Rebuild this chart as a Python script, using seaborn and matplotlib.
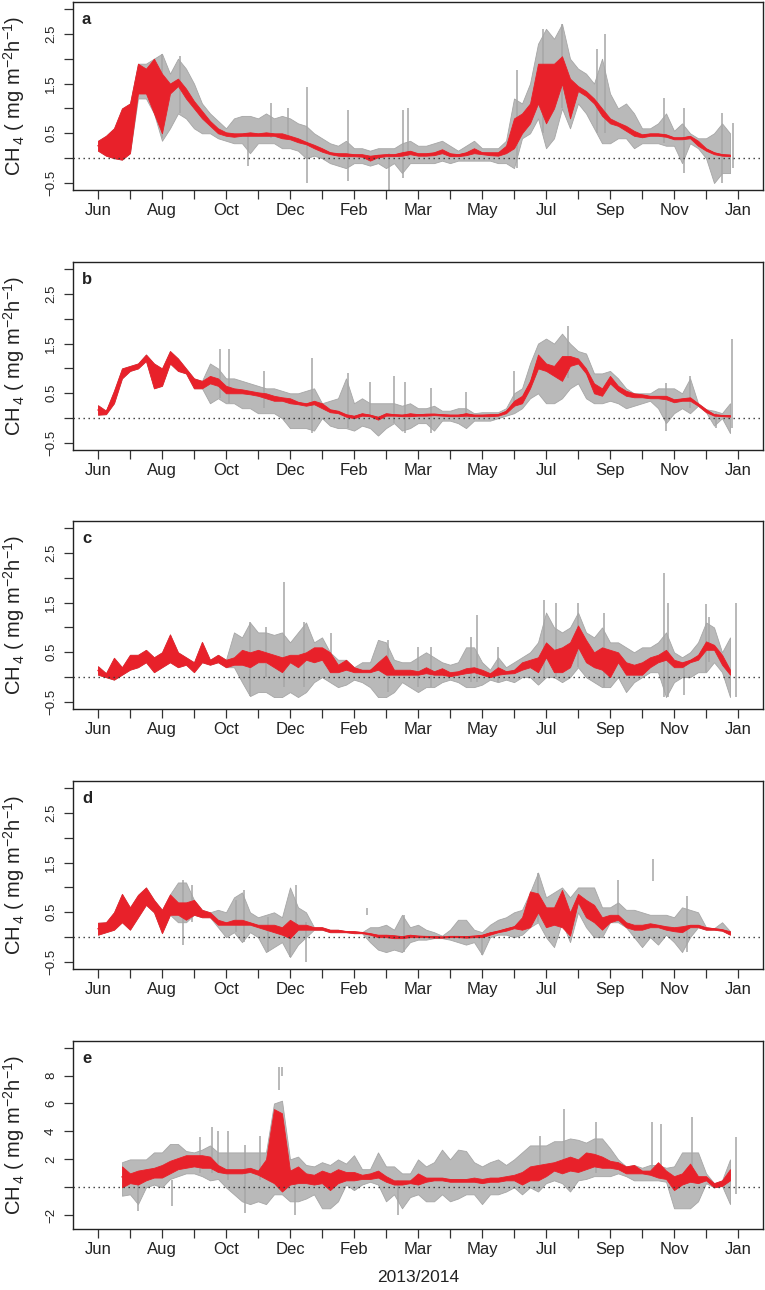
import numpy as np
import matplotlib
matplotlib.use("Agg")
import matplotlib.pyplot as plt
import seaborn as sns
import pandas as pd

# ---------------- data (months since Jun 2013, step 0.25 month) ----------------
months = np.arange(0, 20, 0.25)
nan = np.nan

month_ticks = list(range(0, 21))
month_labels = ["Jun", "", "Aug", "", "Oct", "", "Dec", "", "Feb", "", "Mar", "",
                "May", "", "Jul", "", "Sep", "", "Nov", "", "Jan"]

# ---- panel a ----
a_red_lo = [0.15, 0.05, 0.0, -0.03, 0.1, 1.3, 1.3, 0.9, 0.5, 1.3, 1.45, 1.2,
            1.0, 0.8, 0.65, 0.5, 0.45, 0.43, 0.45, 0.45, 0.45, 0.45, 0.45, 0.4,
            0.38, 0.32, 0.28, 0.2, 0.13, 0.08, 0.05, 0.04, 0.04, 0.03, -0.05, 0.02,
            0.04, 0.04, 0.05, 0.08, 0.05, 0.05, 0.06, 0.1, 0.04, 0.04, 0.06, 0.1,
            0.08, 0.06, 0.05, 0.1, 0.2, 0.5, 0.7, 1.1, 0.7, 1.0, 1.5, 0.8,
            1.35, 1.25, 1.1, 0.85, 0.7, 0.65, 0.55, 0.45, 0.42, 0.45, 0.45, 0.43,
            0.38, 0.38, 0.4, 0.25, 0.15, 0.08, 0.05, 0.04]
a_red_hi = [0.35, 0.45, 0.6, 1.0, 1.1, 1.9, 1.8, 2.0, 1.7, 1.5, 1.6, 1.4,
            1.15, 0.95, 0.75, 0.6, 0.52, 0.5, 0.5, 0.52, 0.5, 0.52, 0.5, 0.5,
            0.45, 0.4, 0.33, 0.27, 0.2, 0.12, 0.1, 0.1, 0.08, 0.08, 0.05, 0.07,
            0.08, 0.08, 0.12, 0.15, 0.1, 0.1, 0.12, 0.18, 0.1, 0.08, 0.12, 0.2,
            0.12, 0.12, 0.12, 0.25, 0.8, 0.9, 1.1, 1.9, 1.9, 1.9, 2.05, 1.6,
            1.45, 1.35, 1.2, 1.0, 0.8, 0.72, 0.65, 0.55, 0.48, 0.5, 0.5, 0.48,
            0.42, 0.42, 0.45, 0.35, 0.2, 0.12, 0.08, 0.07]
a_grey_lo = [0.15, 0.05, 0.0, -0.03, 0.1, 1.2, 1.2, 0.9, 0.35, 0.6, 0.9, 0.8,
             0.6, 0.5, 0.5, 0.4, 0.35, 0.3, 0.3, 0.1, 0.3, 0.3, 0.3, 0.2,
             0.2, 0.15, 0.0, 0.05, 0.0, -0.1, -0.15, -0.2, -0.1, -0.1, -0.15, -0.1,
             -0.2, -0.1, -0.3, -0.1, -0.1, -0.1, -0.1, -0.05, -0.1, -0.05, -0.05, -0.05,
             -0.05, -0.05, -0.1, -0.1, -0.2, 0.4, 0.5, 0.8, 0.2, 0.4, 1.0, 0.6,
             1.1, 0.9, 0.6, 0.3, 0.3, 0.4, 0.4, 0.2, 0.3, 0.3, 0.3, 0.25,
             0.25, -0.1, 0.3, 0.2, 0.0, -0.5, -0.3, -0.3]
a_grey_hi = [0.35, 0.45, 0.6, 1.0, 1.1, 1.9, 1.9, 2.0, 2.1, 1.7, 2.0, 1.8,
             1.5, 1.1, 0.9, 0.75, 0.6, 0.8, 0.85, 0.85, 0.8, 0.9, 0.8, 0.85,
             0.8, 0.7, 0.65, 0.5, 0.4, 0.3, 0.25, 0.35, 0.2, 0.2, 0.15, 0.2,
             0.2, 0.2, 0.3, 0.35, 0.25, 0.25, 0.3, 0.35, 0.25, 0.15, 0.25, 0.35,
             0.2, 0.2, 0.2, 0.35, 1.2, 1.1, 1.5, 2.3, 2.6, 2.4, 2.7, 2.0,
             1.8, 1.7, 1.5, 2.0, 1.3, 1.0, 1.1, 0.9, 0.6, 0.6, 0.7, 0.9,
             0.55, 0.7, 0.5, 0.4, 0.4, 0.5, 0.7, 0.5]
a_spike_x = [2.0, 2.55, 4.7, 5.4, 5.95, 6.52, 7.8, 9.1, 9.54, 9.7, 13.08, 13.9,
             14.5, 15.6, 15.85, 17.7, 18.3, 19.5, 19.85]
a_spike_lo = [0.4, 0.9, -0.16, 0.4, 0.4, -0.5, -0.46, -0.63, -0.4, 0.0, -0.2, 0.5,
              1.0, 0.5, 0.5, 0.3, -0.3, -0.5, -0.2]
a_spike_hi = [2.1, 2.05, 0.5, 1.1, 1.0, 1.44, 0.97, 0.1, 0.97, 1.0, 1.77, 2.6,
              2.7, 2.2, 2.5, 1.2, 1.0, 0.9, 0.7]

# ---- panel b ----
b_red_lo = [0.07, 0.08, 0.3, 0.8, 0.95, 1.0, 1.15, 0.6, 0.65, 1.1, 0.95, 0.9,
            0.6, 0.6, 0.7, 0.65, 0.5, 0.5, 0.5, 0.48, 0.45, 0.4, 0.35, 0.35,
            0.3, 0.28, 0.25, 0.28, 0.2, 0.12, 0.1, 0.03, 0.0, 0.05, 0.04, -0.03,
            0.05, 0.05, 0.04, 0.04, 0.05, 0.05, 0.06, 0.05, 0.04, 0.04, 0.05, 0.04,
            0.04, 0.04, 0.05, 0.1, 0.25, 0.3, 0.6, 1.0, 0.95, 0.85, 0.75, 1.05,
            1.1, 0.9, 0.5, 0.45, 0.7, 0.55, 0.45, 0.42, 0.42, 0.4, 0.4, 0.38,
            0.32, 0.35, 0.35, 0.25, 0.12, 0.05, 0.04, 0.03]
b_red_hi = [0.26, 0.15, 0.55, 1.0, 1.05, 1.1, 1.28, 1.1, 1.0, 1.35, 1.2, 1.0,
            0.8, 0.75, 0.85, 0.8, 0.65, 0.6, 0.58, 0.55, 0.52, 0.5, 0.45, 0.42,
            0.4, 0.33, 0.3, 0.35, 0.3, 0.18, 0.15, 0.08, 0.05, 0.1, 0.07, 0.03,
            0.1, 0.08, 0.07, 0.1, 0.08, 0.09, 0.09, 0.08, 0.07, 0.07, 0.1, 0.07,
            0.07, 0.08, 0.08, 0.15, 0.35, 0.45, 0.75, 1.28, 1.1, 1.05, 1.25, 1.25,
            1.2, 1.0, 0.7, 0.6, 0.85, 0.65, 0.55, 0.5, 0.48, 0.45, 0.45, 0.45,
            0.38, 0.4, 0.42, 0.3, 0.18, 0.08, 0.06, 0.06]
b_grey_lo = [0.07, 0.08, 0.3, 0.8, 0.95, 1.0, 1.15, 0.6, 0.65, 1.1, 0.95, 0.9,
             0.6, 0.6, 0.3, 0.4, 0.3, 0.3, 0.2, 0.2, 0.1, 0.1, 0.1, 0.0,
             -0.2, -0.2, -0.2, -0.25, 0.0, -0.15, -0.2, -0.2, -0.25, -0.15, -0.2, -0.35,
             -0.2, -0.1, -0.25, -0.2, -0.1, -0.1, -0.25, -0.05, -0.05, -0.1, -0.2, -0.05,
             -0.05, -0.05, 0.0, 0.05, 0.1, 0.2, 0.4, 0.5, 0.3, 0.3, 0.4, 0.6,
             0.7, 0.4, 0.3, 0.3, 0.35, 0.3, 0.2, 0.25, 0.3, 0.35, 0.2, -0.1,
             0.1, 0.2, 0.1, 0.25, 0.12, -0.15, 0.0, -0.3]
b_grey_hi = [0.26, 0.15, 0.55, 1.0, 1.05, 1.1, 1.28, 1.1, 1.0, 1.35, 1.2, 1.0,
             0.8, 0.75, 1.1, 1.0, 0.8, 0.8, 0.75, 0.7, 0.65, 0.6, 0.6, 0.55,
             0.5, 0.5, 0.55, 0.6, 0.3, 0.35, 0.4, 0.8, 0.3, 0.4, 0.3, 0.3,
             0.3, 0.3, 0.25, 0.3, 0.2, 0.2, 0.25, 0.15, 0.15, 0.2, 0.2, 0.1,
             0.12, 0.12, 0.12, 0.2, 0.5, 0.6, 1.1, 1.5, 1.6, 1.5, 1.7, 1.5,
             1.35, 1.3, 0.9, 0.9, 0.95, 0.8, 0.6, 0.5, 0.5, 0.5, 0.6, 0.6,
             0.6, 0.5, 0.8, 0.3, 0.18, 0.15, 0.1, 0.3]
b_spike_x = [3.8, 4.1, 5.2, 6.7, 7.8, 8.5, 9.26, 9.6, 10.4, 11.5, 13.0, 14.7,
             17.75, 18.5, 19.3, 19.8]
b_spike_lo = [0.4, 0.3, 0.2, -0.3, -0.2, 0.0, -0.1, -0.3, -0.3, 0.0, 0.2, 0.8,
              -0.25, 0.2, -0.2, -0.2]
b_spike_hi = [1.4, 1.4, 0.95, 1.2, 0.9, 0.73, 0.85, 0.72, 0.6, 0.52, 0.95, 1.85,
              0.7, 0.85, 0.1, 1.6]

# ---- panel c ----
c_red_lo = [0.05, 0.0, -0.05, 0.05, 0.15, 0.2, 0.3, 0.1, 0.2, 0.3, 0.2, 0.25,
            0.1, 0.3, 0.25, 0.3, 0.2, 0.25, 0.25, 0.2, 0.3, 0.3, 0.2, 0.1,
            0.3, 0.2, 0.35, 0.3, 0.35, 0.1, 0.1, 0.15, 0.1, 0.1, 0.1, 0.15,
            0.05, 0.05, 0.05, 0.05, 0.05, 0.08, 0.05, 0.05, 0.02, 0.05, 0.08, 0.1,
            0.05, 0.0, 0.05, 0.07, 0.08, 0.15, 0.2, 0.1, 0.4, 0.1, 0.1, 0.2,
            0.6, 0.3, 0.2, 0.15, 0.0, 0.3, 0.05, 0.05, 0.05, 0.2, 0.3, 0.35,
            0.2, 0.2, 0.3, 0.35, 0.55, 0.55, 0.25, 0.05]
c_red_hi = [0.22, 0.08, 0.39, 0.2, 0.45, 0.45, 0.55, 0.4, 0.5, 0.86, 0.5, 0.4,
            0.3, 0.71, 0.35, 0.45, 0.35, 0.4, 0.55, 0.5, 0.55, 0.5, 0.45, 0.4,
            0.45, 0.45, 0.5, 0.6, 0.6, 0.5, 0.25, 0.35, 0.2, 0.15, 0.15, 0.3,
            0.44, 0.15, 0.15, 0.15, 0.12, 0.2, 0.12, 0.18, 0.1, 0.12, 0.18, 0.2,
            0.15, 0.08, 0.2, 0.12, 0.15, 0.3, 0.35, 0.4, 0.7, 0.55, 0.6, 0.7,
            1.04, 0.75, 0.5, 0.6, 0.55, 0.5, 0.3, 0.25, 0.3, 0.4, 0.45, 0.55,
            0.35, 0.3, 0.35, 0.45, 0.72, 0.65, 0.45, 0.15]
c_grey_lo = [0.05, 0.0, -0.05, 0.05, 0.15, 0.2, 0.3, 0.1, 0.2, 0.3, 0.2, 0.25,
             0.1, 0.3, 0.25, 0.3, 0.2, 0.2, -0.1, -0.38, -0.3, -0.3, -0.4, -0.4,
             -0.3, -0.4, -0.3, -0.1, 0.0, -0.1, -0.2, -0.15, -0.05, -0.1, -0.2, -0.4,
             -0.4, -0.3, -0.1, -0.2, -0.3, -0.2, -0.2, -0.1, -0.05, -0.1, -0.2, -0.2,
             -0.15, -0.05, -0.1, -0.05, -0.1, 0.0, 0.0, -0.15, 0.0, 0.0, -0.1, 0.0,
             0.2, 0.0, -0.1, -0.2, -0.2, 0.0, -0.3, -0.1, 0.0, 0.1, 0.1, -0.4,
             -0.1, 0.0, 0.0, 0.1, 0.1, 0.3, 0.1, -0.4]
c_grey_hi = [0.22, 0.08, 0.39, 0.2, 0.45, 0.45, 0.55, 0.4, 0.5, 0.86, 0.5, 0.4,
             0.3, 0.71, 0.35, 0.45, 0.35, 0.9, 0.8, 1.1, 0.9, 0.9, 0.85, 0.9,
             0.7, 0.9, 1.1, 0.7, 0.8, 0.5, 0.35, 0.35, 0.2, 0.3, 0.3, 0.75,
             0.7, 0.35, 0.3, 0.3, 0.4, 0.5, 0.4, 0.3, 0.25, 0.3, 0.6, 0.6,
             0.3, 0.15, 0.4, 0.2, 0.3, 0.4, 0.5, 0.7, 1.3, 1.0, 0.9, 1.0,
             1.3, 0.9, 0.8, 1.0, 0.7, 0.7, 0.6, 0.5, 0.6, 0.6, 0.7, 0.9,
             0.5, 0.4, 0.5, 0.7, 1.1, 1.0, 0.5, 0.8]
c_spike_x = [4.75, 5.25, 5.8, 6.45, 7.27, 9.05, 10.0, 10.4, 11.65, 11.83, 12.5, 13.95,
             14.3, 15.0, 15.8, 17.7, 17.8, 18.3, 19.0, 19.1, 19.93]
c_spike_lo = [-0.38, 0.0, -0.2, -0.2, 0.3, -0.3, -0.2, -0.2, -0.1, -0.1, -0.1, 0.0,
              0.0, 0.2, -0.2, -0.4, -0.4, -0.35, 0.1, 0.3, -0.4]
c_spike_hi = [1.1, 1.0, 1.91, 1.1, 0.88, 0.75, 0.6, 0.6, 0.8, 1.25, 0.6, 1.55,
              1.5, 1.5, 1.3, 2.09, 1.5, 0.3, 1.48, 1.2, 1.5]

# ---- panel d ----
d_red_lo = [0.05, 0.1, 0.15, 0.3, 0.15, 0.4, 0.65, 0.5, 0.08, 0.45, 0.45, 0.35,
            0.45, 0.4, 0.4, 0.25, 0.25, 0.25, 0.25, 0.25, 0.2, 0.15, 0.1, 0.05,
            -0.02, 0.15, 0.15, 0.15, 0.15, 0.1, 0.1, 0.1, 0.08, 0.08, 0.05, 0.0,
            0.0, -0.02, -0.02, 0.0, 0.0, 0.0, -0.01, -0.01, 0.0, 0.0, -0.01, 0.0,
            0.0, 0.05, 0.1, 0.13, 0.18, 0.15, 0.2, 0.5, 0.2, 0.25, 0.2, 0.03,
            0.7, 0.4, 0.3, 0.15, 0.3, 0.35, 0.2, 0.15, 0.15, 0.2, 0.2, 0.15,
            0.12, 0.1, 0.2, 0.2, 0.15, 0.15, 0.13, 0.05]
d_red_hi = [0.29, 0.3, 0.5, 0.87, 0.6, 0.85, 1.0, 0.75, 0.55, 0.86, 0.7, 0.7,
            0.75, 0.55, 0.5, 0.35, 0.3, 0.35, 0.35, 0.3, 0.25, 0.25, 0.25, 0.2,
            0.35, 0.25, 0.25, 0.2, 0.2, 0.15, 0.15, 0.12, 0.12, 0.1, 0.08, 0.05,
            0.05, 0.04, 0.02, 0.05, 0.03, 0.02, 0.02, 0.01, 0.02, 0.02, 0.02, 0.03,
            0.05, 0.1, 0.13, 0.18, 0.22, 0.4, 0.92, 0.88, 0.6, 0.6, 0.95, 0.5,
            0.87, 0.75, 0.65, 0.4, 0.45, 0.45, 0.3, 0.25, 0.25, 0.28, 0.25, 0.22,
            0.2, 0.22, 0.25, 0.25, 0.2, 0.18, 0.16, 0.12]
d_grey_lo = [0.05, 0.1, 0.15, 0.3, 0.15, 0.4, 0.65, 0.5, 0.08, 0.45, 0.3, 0.3,
             0.45, 0.4, 0.4, 0.2, 0.0, 0.1, -0.1, 0.1, 0.0, -0.3, -0.2, -0.1,
             -0.4, -0.15, 0.0, 0.15, 0.15, 0.1, 0.1, 0.1, 0.08, 0.08, -0.1, -0.25,
             -0.3, -0.25, -0.3, -0.1, -0.05, -0.05, -0.02, -0.02, -0.05, -0.1, -0.15, -0.1,
             -0.35, 0.0, 0.05, 0.05, 0.0, 0.05, 0.2, 0.3, 0.0, -0.2, 0.3, -0.1,
             0.5, 0.2, 0.0, 0.0, 0.3, 0.3, 0.2, 0.0, -0.2, 0.0, -0.15, 0.05,
             -0.1, -0.3, 0.0, 0.2, 0.15, 0.15, 0.13, 0.05]
d_grey_hi = [0.29, 0.3, 0.5, 0.87, 0.6, 0.85, 1.0, 0.75, 0.55, 0.86, 1.1, 1.1,
             0.75, 0.55, 0.5, 0.55, 0.5, 0.8, 0.9, 0.5, 0.4, 0.45, 0.5, 0.4,
             1.0, 0.6, 0.5, 0.2, 0.2, 0.15, 0.15, 0.12, 0.12, 0.1, 0.2, 0.2,
             0.25, 0.15, 0.45, 0.2, 0.25, 0.15, 0.1, 0.03, 0.15, 0.35, 0.35, 0.15,
             0.1, 0.25, 0.35, 0.4, 0.5, 0.55, 0.9, 1.3, 0.8, 0.9, 1.0, 0.8,
             1.0, 1.0, 1.0, 0.6, 0.6, 0.7, 0.55, 0.55, 0.5, 0.45, 0.45, 0.45,
             0.4, 0.6, 0.55, 0.5, 0.2, 0.18, 0.3, 0.12]
d_spike_x = [2.65, 2.95, 4.3, 4.55, 5.3, 6.0, 6.2, 6.5, 8.4, 9.55, 12.0, 13.75,
             16.25, 17.33, 18.4]
d_spike_lo = [-0.15, 0.3, 0.1, -0.1, -0.3, -0.4, 0.1, -0.5, 0.45, -0.3, -0.35, 0.3,
              0.3, 1.12, -0.3]
d_spike_hi = [1.15, 1.05, 0.75, 0.95, 0.4, 0.3, 1.05, 0.3, 0.58, 0.45, 0.0, 1.29,
              1.15, 1.58, 0.83]

# ---- panel e ----
e_red_lo = [nan, nan, nan, 0.0, 0.3, 0.2, 0.5, 0.7, 0.7, 1.0, 1.3, 1.4,
            1.5, 1.4, 1.4, 1.1, 1.0, 1.0, 1.0, 1.1, 0.9, 0.6, 0.3, -0.3,
            0.2, 0.3, 0.3, 0.2, 0.3, -0.2, 0.3, 0.5, 0.5, 0.6, 0.6, 0.7,
            0.4, 0.2, 0.2, 0.3, 0.2, 0.4, 0.5, 0.5, 0.4, 0.4, 0.4, 0.4,
            0.3, 0.4, 0.4, 0.5, 0.5, 0.2, 0.5, 0.5, 0.8, 1.2, 1.0, 1.2,
            1.1, 1.3, 1.5, 1.4, 1.4, 1.3, 1.0, 1.0, 1.0, 0.9, 0.7, 0.6,
            -0.2, 0.2, 0.4, 0.3, 0.5, 0.0, 0.1, 0.5]
e_red_hi = [nan, nan, nan, 1.5, 1.0, 1.2, 1.3, 1.4, 1.6, 1.9, 2.1, 2.3,
            2.3, 2.3, 2.2, 1.6, 1.3, 1.3, 1.3, 1.4, 1.2, 2.0, 5.6, 5.3,
            1.2, 1.5, 1.0, 0.9, 1.2, 1.0, 1.3, 1.1, 1.1, 0.9, 1.0, 1.2,
            0.8, 0.5, 0.5, 0.5, 1.0, 0.7, 0.7, 0.7, 0.6, 0.6, 0.6, 0.7,
            0.6, 0.7, 0.7, 0.8, 0.9, 1.1, 1.5, 1.6, 1.7, 1.8, 2.0, 2.2,
            2.0, 2.5, 2.4, 2.2, 1.9, 1.8, 1.5, 1.6, 1.2, 1.2, 1.8, 1.2,
            0.8, 1.0, 1.7, 0.8, 0.8, 0.3, 0.5, 1.3]
e_grey_lo = [nan, nan, nan, -0.6, -0.5, -1.2, 0.0, 0.2, 0.0, 0.6, 0.8, 1.0,
             1.0, 0.8, 0.5, 0.6, 0.0, -0.5, -1.0, -1.2, -1.0, -1.2, -0.5, -0.5,
             -1.0, -1.0, -0.8, -0.5, -1.5, -1.5, -1.0, 0.2, -0.2, 0.2, 0.4, 0.2,
             -1.0, -0.5, -1.5, -0.7, -0.5, -1.0, -1.0, -0.5, -1.0, -0.8, -0.5, -0.5,
             -1.2, -0.5, -0.5, -0.3, 0.0, -0.5, 0.0, -0.3, 0.3, 0.5, 0.3, -0.3,
             0.5, 0.6, 0.8, 0.8, 0.8, 1.0, 0.8, 0.5, 0.5, 0.5, 0.5, 0.4,
             -1.5, -1.5, -1.5, -1.0, 0.3, 0.0, 0.1, -1.2]
e_grey_hi = [nan, nan, nan, 1.8, 2.0, 2.0, 2.0, 2.5, 2.5, 3.1, 3.1, 2.6,
             2.5, 2.7, 3.0, 2.5, 2.5, 2.5, 2.5, 2.5, 2.5, 2.5, 6.0, 6.2,
             2.0, 2.2, 1.6, 1.5, 1.8, 1.6, 2.0, 1.7, 2.3, 1.3, 1.3, 2.5,
             1.5, 1.5, 1.0, 1.0, 2.0, 1.5, 1.8, 2.7, 2.0, 2.7, 2.6, 1.8,
             1.5, 1.8, 2.0, 1.6, 2.0, 2.5, 3.0, 3.0, 3.0, 3.3, 3.3, 3.5,
             3.4, 3.2, 3.5, 3.5, 2.8, 2.0, 1.5, 1.6, 1.4, 1.6, 1.6, 1.4,
             1.5, 2.5, 2.5, 2.5, 1.0, 0.3, 0.5, 2.0]
e_spike_x = [1.26, 2.32, 3.2, 3.55, 3.75, 4.05, 4.6, 5.05, 5.65, 5.75, 6.16, 9.39,
             13.8, 14.55, 15.55, 17.3, 17.6, 18.55, 19.95]
e_spike_lo = [-1.7, -1.3, 1.0, 1.0, 1.0, 0.5, -1.8, 0.5, 7.0, 8.0, -2.0, -2.0,
              0.5, 1.0, 1.0, 0.8, 0.8, 0.5, -0.5]
e_spike_hi = [0.5, 0.5, 3.6, 4.3, 4.0, 4.0, 3.0, 3.7, 8.6, 8.6, 0.5, 0.5,
              3.7, 5.58, 4.7, 4.7, 4.5, 5.0, 3.6]

panels = [
    ("a", a_red_lo, a_red_hi, a_grey_lo, a_grey_hi, a_spike_x, a_spike_lo, a_spike_hi),
    ("b", b_red_lo, b_red_hi, b_grey_lo, b_grey_hi, b_spike_x, b_spike_lo, b_spike_hi),
    ("c", c_red_lo, c_red_hi, c_grey_lo, c_grey_hi, c_spike_x, c_spike_lo, c_spike_hi),
    ("d", d_red_lo, d_red_hi, d_grey_lo, d_grey_hi, d_spike_x, d_spike_lo, d_spike_hi),
    ("e", e_red_lo, e_red_hi, e_grey_lo, e_grey_hi, e_spike_x, e_spike_lo, e_spike_hi),
]

# ---------------- style ----------------
sns.set_theme(style="ticks")
plt.rcParams["font.family"] = ["Liberation Sans", "DejaVu Sans"]
plt.rcParams["mathtext.default"] = "regular"
plt.rcParams["axes.edgecolor"] = "#222222"
plt.rcParams["axes.linewidth"] = 1.0

RED = "#E8212A"
GREY = "#A6A6A6"
GREY_FILL = "#B9B9B9"

W, H = 765, 1290
fig = plt.figure(figsize=(W / 100, H / 100), dpi=100)

tops = [2, 262, 521, 781, 1041]
ax_h = 188
left, right = 73, 763

for (letter, rlo, rhi, glo, ghi, sx, slo, shi), top in zip(panels, tops):
    ax = fig.add_axes([left / W, 1 - (top + ax_h) / H, (right - left) / W, ax_h / H])
    rlo = np.array(rlo, float); rhi = np.array(rhi, float)
    glo = np.array(glo, float); ghi = np.array(ghi, float)

    # grey raw fluxes: envelope + isolated spikes
    ax.fill_between(months, glo, ghi, color=GREY_FILL, lw=0.6, edgecolor=GREY, zorder=1)
    ax.vlines(sx, slo, shi, color=GREY, lw=1.1, zorder=1.5)
    # red series
    ax.fill_between(months, rlo, rhi, color=RED, lw=0.6, edgecolor=RED, zorder=2)
    df = pd.DataFrame({"m": months, "v": (rlo + rhi) / 2})
    sns.lineplot(data=df, x="m", y="v", ax=ax, color=RED, lw=1.1, zorder=3)

    ax.axhline(0, color="#333333", lw=1.0, ls=(0, (1, 2.6)), zorder=4)

    ax.set_xlim(-0.78, 20.78)
    ax.set_xticks(month_ticks)
    ax.set_xticklabels(month_labels, fontsize=12)
    if letter == "e":
        ax.set_ylim(-2.98, 10.47)
        yt = [-2, 0, 2, 4, 6, 8, 10]
        yl = ["\u22122", "", "2", "4", "6", "8", ""]
    else:
        ax.set_ylim(-0.64, 3.14)
        yt = [-0.5, 0, 0.5, 1.0, 1.5, 2.0, 2.5, 3.0]
        yl = ["\u22120.5", "", "0.5", "", "1.5", "", "2.5", ""]
    ax.set_yticks(yt)
    ax.set_yticklabels(yl, fontsize=9.5, rotation=90, va="center")
    ax.tick_params(axis="both", length=6.5, width=0.9, color="#333333", labelcolor="#222222")
    ax.tick_params(axis="x", pad=3)
    ax.tick_params(axis="y", pad=5)
    ax.set_xlabel("")
    ax.set_ylabel("")
    for s in ax.spines.values():
        s.set_visible(True)
        s.set_color("#222222")
    ax.text(0.013, 0.905, letter, transform=ax.transAxes, fontsize=12,
            fontweight="bold", ha="left", va="center", color="#222222")

    fig.text(14 / W, 1 - (top + ax_h / 2) / H, r"CH$_{\,4}$ ( mg m$^{-2}$h$^{-1}$)",
             rotation=90, ha="center", va="center", fontsize=14.5, color="#222222")

fig.text(418 / W, 1 - 1278 / H, "2013/2014", ha="center", va="center",
         fontsize=12.5, color="#222222")

fig.savefig("out.png", dpi=100)
